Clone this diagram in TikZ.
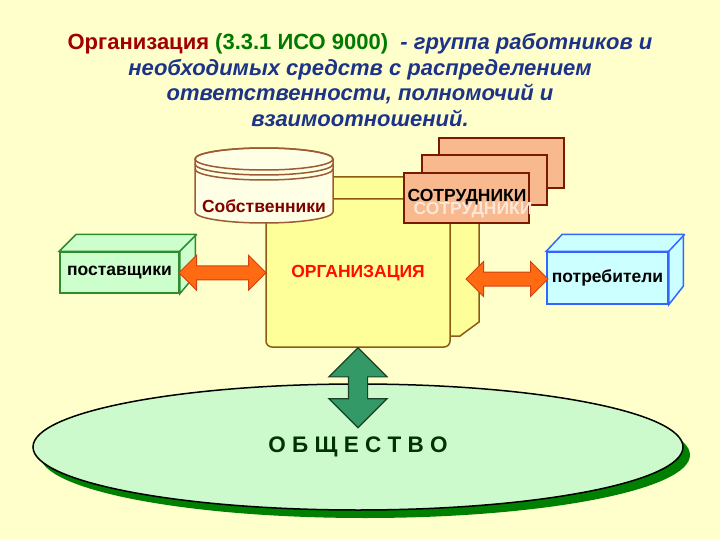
\documentclass[tikz,border=0pt]{standalone}
\usepackage{fontspec}
\setmainfont{Liberation Sans}
\usetikzlibrary{shapes.arrows,shapes.geometric,shadows,calc}

\definecolor{bgyellow}{HTML}{FFFFCC}
\definecolor{pageyellow}{HTML}{FFFF99}
\definecolor{pageline}{HTML}{8C5A14}
\definecolor{cylfill}{HTML}{FFFFE5}
\definecolor{cylline}{HTML}{9C5B33}
\definecolor{ownertext}{HTML}{800000}
\definecolor{stafffill}{HTML}{F8B98F}
\definecolor{staffline}{HTML}{7A1A00}
\definecolor{titlered}{HTML}{A00000}
\definecolor{isogreen}{HTML}{007A00}
\definecolor{textblue}{HTML}{1C3388}
\definecolor{provfill}{HTML}{CCFFCC}
\definecolor{provline}{HTML}{2E8B2E}
\definecolor{consfill}{HTML}{CCFFFF}
\definecolor{consline}{HTML}{3366FF}
\definecolor{arrowfill}{HTML}{FF6A13}
\definecolor{arrowline}{HTML}{D04010}
\definecolor{socfill}{HTML}{CCFACC}
\definecolor{socshadow}{HTML}{008000}
\definecolor{socarrow}{HTML}{339966}
\definecolor{socarrowline}{HTML}{1A4026}
\definecolor{soctext}{HTML}{003300}

\begin{document}
\begin{tikzpicture}[x=1pt,y=-1pt,
    every node/.style={font=\fontsize{17.5}{20}\selectfont\bfseries},
    page/.style={draw=pageline,fill=pageyellow,line width=1.5pt},
    sheet/.style={draw=staffline,fill=stafffill,line width=2pt,minimum width=125pt,minimum height=50pt},
    cube/.style={line width=1.5pt,inner sep=0pt},
    orangearrow/.style={double arrow,draw=arrowline,fill=arrowfill,line width=1pt,
      inner xsep=0pt,inner ysep=6.5pt,double arrow head extend=10.5pt},
    greenarrow/.style={double arrow,draw=socarrowline,fill=socarrow,line width=1.2pt,
      inner sep=9pt,double arrow head extend=19.5pt,shape border rotate=90}]
      \fill[bgyellow] (0,0) rectangle (720,540);

      \node[align=center,font=\fontsize{22}{25.5}\selectfont\bfseries] (title) at (360,80)
        {\textcolor{titlered}{Организация} \textcolor{isogreen}{(3.3.1 ИСО 9000)}\ \ {\color{textblue}\itshape - группа работников и}\\
         {\color{textblue}\itshape необходимых средств с распределением}\\
         {\color{textblue}\itshape ответственности, полномочий и}\\
         {\color{textblue}\itshape взаимоотношений.}};

      \filldraw[page] (290,177) -- (479,177) -- (479,322) -- (460,336) -- (290,336) -- cycle;
      \node[page,rounded corners=6pt,minimum width=184pt,minimum height=148pt,text=red!90!orange] (org) at (358,273) {ОРГАНИЗАЦИЯ};

      \filldraw[draw=cylline,fill=cylfill,line width=1.5pt] (195,159) -- (195,212)
        arc[start angle=180,end angle=0,x radius=69,y radius=11] -- (333,159)
        arc[start angle=0,end angle=-180,x radius=69,y radius=11] -- cycle;
      \draw[cylline,line width=1.5pt] (264,159) ellipse[x radius=69,y radius=11];
      \draw[cylline,line width=1.5pt] (195,164) arc[start angle=180,end angle=0,x radius=69,y radius=11];
      \draw[cylline,line width=1.5pt] (195,169) arc[start angle=180,end angle=0,x radius=69,y radius=11];
      \node[text=ownertext] (owners) at (264,206) {Собственники};

      \node[sheet] (staffC) at (501.5,163.5) {};
      \node[sheet] (staffB) at (484.5,180.5) {};
      \node[sheet] (staffA) at (466.5,198) {};
      \node[text=white!65!stafffill] (staffghost) at (473,210) {СОТРУДНИКИ};
      \node (staff) at (467,197) {СОТРУДНИКИ};

      \node[cube,draw=provline,fill=provfill,minimum width=119pt,minimum height=41pt] (prov) at (119.5,272.5) {поставщики};
      \filldraw[cube,draw=provline,fill=provfill] (prov.north west) -- ++(17,-17) -- ++(119,0) -- ++(0,41)
        -- (prov.south east) -- (prov.north east) -- cycle;
      \draw[cube,provline] (prov.north east) -- ++(17,-17);

      \node[cube,draw=consline,fill=consfill,minimum width=121pt,minimum height=52pt] (cons) at (607.5,278) {потребители};
      \filldraw[cube,draw=consline,fill=consfill] (cons.north west) -- ++(16,-17) -- ++(121,0) -- ++(0,52)
        -- (cons.south east) -- (cons.north east) -- cycle;
      \draw[cube,consline] (cons.north east) -- ++(16,-17);

      \node[orangearrow,minimum height=87pt] (linkprov) at ($(prov.east)!.5!(org.west)$) {};
      \node[orangearrow,minimum height=82pt] (linkcons) at (507,279) {};

      \node[ellipse,draw=black,fill=socfill,line width=1.5pt,minimum width=650pt,minimum height=126pt,
        copy shadow={shadow xshift=7pt,shadow yshift=-8pt,fill=socshadow,draw=none},
        text=soctext,font=\fontsize{22.5}{26}\selectfont\bfseries] (society) at (358,447) {О Б Щ Е С Т В О};

      \node[greenarrow,minimum height=80pt] (linksoc) at ($(org.south)+(0,40)$) {};
\end{tikzpicture}
\end{document}
